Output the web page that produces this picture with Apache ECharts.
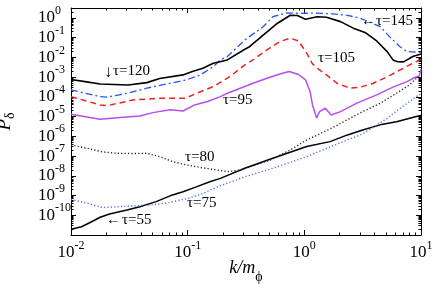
<!DOCTYPE html>
<html>
<head>
<meta charset="utf-8">
<script src="https://cdn.jsdelivr.net/npm/echarts@6/dist/echarts.min.js"></script>
<style>html,body{margin:0;padding:0;background:#fff}#c{width:436px;height:289px}</style>
</head>
<body>
<div id="c"></div>
<script>
// Values, stored as log10 exponents (log10 k/m_phi, log10 P_delta)
const k_t120 = [-2, -1.88, -1.75, -1.69, -1.51, -1.35, -1.24, -1.04, -0.96, -0.87, -0.78, -0.66, -0.51, -0.47, -0.35, -0.23, -0.12, -0.06, 0.01, 0.11, 0.19, 0.31, 0.42, 0.52, 0.62, 0.71, 0.76, 0.80, 0.85, 0.93, 1.0];
const p_t120 = [-3.12, -3.23, -3.35, -3.36, -3.40, -3.28, -3.07, -2.89, -2.72, -2.55, -2.30, -2.13, -1.59, -1.46, -0.86, -0.27, 0.13, 0.12, -0.07, 0.06, 0.03, -0.19, -0.52, -0.74, -1.17, -1.71, -2.13, -2.22, -2.23, -1.96, -1.83];

const k_t145 = [-2, -1.75, -1.69, -1.52, -1.35, -1.14, -1.01, -0.89, -0.78, -0.72, -0.66, -0.51, -0.47, -0.35, -0.27, -0.15, -0.04, 0.11, 0.25, 0.37, 0.48, 0.65, 0.73, 0.82, 0.88, 1.0];
const p_t145 = [-3.65, -3.99, -4.02, -3.82, -3.56, -3.30, -3.14, -2.89, -2.47, -2.13, -1.96, -1.12, -0.95, -0.44, 0.06, 0.25, 0.23, 0.24, 0.20, 0.13, -0.02, -0.44, -0.95, -1.46, -1.71, -1.75];

const k_t105 = [-2, -1.75, -1.69, -1.47, -1.24, -1.02, -0.89, -0.78, -0.64, -0.51, -0.44, -0.32, -0.21, -0.12, -0.05, 0.02, 0.07, 0.13, 0.19, 0.28, 0.39, 0.48, 0.59, 0.71, 0.82, 0.93, 1.0];
const p_t105 = [-3.99, -4.41, -4.45, -4.16, -4.07, -4.07, -3.74, -3.48, -2.98, -2.38, -2.13, -1.62, -1.20, -1.03, -1.17, -1.78, -2.33, -2.64, -2.89, -3.31, -3.56, -3.51, -3.31, -2.99, -2.64, -2.30, -2.10];

const k_t95 = [-2, -1.75, -1.58, -1.41, -1.30, -1.15, -1.04, -0.94, -0.83, -0.72, -0.66, -0.51, -0.44, -0.32, -0.21, -0.13, -0.05, 0.01, 0.05, 0.07, 0.105, 0.13, 0.18, 0.23, 0.31, 0.45, 0.62, 0.76, 0.88, 0.95, 0.985, 1.0];
const p_t95 = [-4.88, -5.14, -5.05, -4.97, -4.80, -4.66, -4.72, -4.41, -4.24, -3.99, -3.82, -3.48, -3.31, -3.06, -2.84, -2.72, -2.87, -3.14, -3.74, -4.41, -5.07, -4.75, -4.58, -4.92, -4.75, -4.32, -3.90, -3.51, -3.23, -3.01, -2.95, -2.60];

const k_t80 = [-2, -1.86, -1.73, -1.61, -1.47, -1.35, -1.24, -1.13, -1.01, -0.89, -0.78, -0.66, -0.55, -0.42, -0.29, -0.12, 0.02, 0.13, 0.26, 0.39, 0.50, 0.65, 0.79, 0.90, 0.98];
const p_t80 = [-6.44, -6.61, -6.79, -6.86, -6.87, -6.86, -7.03, -7.28, -7.45, -7.58, -7.68, -7.79, -7.71, -7.45, -7.20, -6.69, -6.19, -5.88, -5.51, -5.09, -4.75, -4.33, -3.82, -3.40, -2.95];

const k_t75 = [-2, -1.86, -1.73, -1.61, -1.47, -1.32, -1.18, -1.02, -0.89, -0.75, -0.51, -0.27, 0.02, 0.22, 0.50, 0.71, 0.79, 0.96, 1.0];
const p_t75 = [-9.20, -9.39, -9.61, -9.57, -9.53, -9.48, -9.38, -9.18, -8.95, -8.57, -8.05, -7.62, -7.03, -6.54, -5.88, -5.09, -4.72, -3.99, -3.85];

const k_t55 = [-2, -1.91, -1.84, -1.75, -1.67, -1.52, -1.41, -1.27, -1.13, -1.04, -0.92, -0.81, -0.72, -0.51, -0.27, 0.02, 0.22, 0.37, 0.50, 0.65, 0.79, 0.96, 1.0];
const p_t55 = [-10.71, -10.58, -10.38, -10.10, -9.94, -9.73, -9.57, -9.31, -8.97, -8.81, -8.55, -8.30, -8.13, -7.62, -7.11, -6.52, -6.27, -5.93, -5.68, -5.42, -5.26, -5.00, -4.95];

// Tick labels (decade exponents)
const xTickExps = [-2, -1, 0, 1];
const yTickExps = [-10, -9, -8, -7, -6, -5, -4, -3, -2, -1, 0];
const X_RANGE = [-2, 1];
const Y_RANGE = [-11, 0.5];

// Annotations
const annotations = ['↓', 'τ=120', '←', 'τ=145', 'τ=105', 'τ=95', 'τ=80', 'τ=75', '←', 'τ=55'];

const FONT = '"Liberation Serif", "Times New Roman", "DejaVu Serif", serif';

function minorTicks(lo, hi) {
  const out = [];
  for (let n = Math.floor(lo); n < hi; n++) {
    for (let m = 2; m <= 9; m++) {
      const v = n + Math.log10(m);
      if (v > lo && v < hi) out.push(v);
    }
  }
  return out;
}
const xMinor = minorTicks(X_RANGE[0], X_RANGE[1]);
const yMinor = minorTicks(Y_RANGE[0], Y_RANGE[1]);

const labelRich = {
  b: { fontSize: 17, fontFamily: FONT, color: '#000', lineHeight: 25, verticalAlign: 'middle' },
  s: { fontSize: 12, fontFamily: FONT, color: '#000', verticalAlign: 'top' }
};
const fmt = v => '{b|10}{s|' + Math.round(v) + '}';

function axisBase(range, pos) {
  return {
    type: 'value', min: range[0], max: range[1], position: pos,
    axisLine: { show: true, onZero: false, lineStyle: { color: '#000', width: 1 } },
    splitLine: { show: false },
    axisLabel: { show: false },
    axisTick: { show: false }
  };
}
function majorAxis(range, pos, ticks) {
  const a = axisBase(range, pos);
  a.axisTick = { show: true, inside: true, length: 5, customValues: ticks, lineStyle: { color: '#000', width: 1 } };
  return a;
}
function minorAxis(range, pos, ticks) {
  const a = axisBase(range, pos);
  a.axisLine = { show: false, onZero: false };
  a.axisTick = { show: true, inside: true, length: 2.5, customValues: ticks, lineStyle: { color: '#000', width: 1 } };
  return a;
}

const xMajorTicks = [-2, -1, 0, 1];
const yMajorTicks = [-11, -10, -9, -8, -7, -6, -5, -4, -3, -2, -1, 0];

// bottom x axis: rich "10^n" labels
const xMain = majorAxis(X_RANGE, 'bottom', xMajorTicks);
xMain.axisLabel = { show: true, customValues: xTickExps, formatter: fmt, rich: labelRich,
  margin: 5, hideOverlap: false, showMinLabel: true, showMaxLabel: true };
xMain.name = '{i|k/m}{s|ϕ}';
xMain.nameLocation = 'middle';
xMain.nameGap = 24;
xMain.nameMoveOverlap = false;
xMain.nameTextStyle = { rich: {
  i: { fontSize: 18, fontStyle: 'italic', fontFamily: FONT, color: '#000', lineHeight: 18, verticalAlign: 'top' },
  s: { fontSize: 14, fontFamily: FONT, color: '#000', lineHeight: 36 }
}};

// left y axis: mantissa "10" labels
const yMain = majorAxis(Y_RANGE, 'left', yMajorTicks);
yMain.axisLabel = { show: true, customValues: yTickExps, formatter: () => '10',
  fontSize: 17, fontFamily: FONT, color: '#000', lineHeight: 17, align: 'right', verticalAlign: 'middle',
  margin: 16, hideOverlap: false, showMinLabel: true, showMaxLabel: true };
yMain.name = '{p|P}{d|δ}';
yMain.nameLocation = 'middle';
yMain.nameRotate = 90;
yMain.nameGap = 46;
yMain.nameMoveOverlap = false;
yMain.nameTextStyle = { rich: {
  p: { fontSize: 19, fontStyle: 'italic', fontFamily: FONT, color: '#000', lineHeight: 20, verticalAlign: 'top' },
  d: { fontSize: 14, fontFamily: FONT, color: '#000', lineHeight: 30 }
}};

// left y axis: exponent (superscript) labels
const yExp = axisBase(Y_RANGE, 'left');
yExp.axisLine = { show: false, onZero: false };
yExp.axisLabel = { show: true, customValues: yTickExps, formatter: v => String(Math.round(v)),
  fontSize: 12, fontFamily: FONT, color: '#000', lineHeight: 14, align: 'left', verticalAlign: 'bottom',
  margin: 16, hideOverlap: false, showMinLabel: true, showMaxLabel: true };

function lineSeries(name, ks, ps, color, type, width) {
  return {
    name, type: 'line', xAxisIndex: 0, yAxisIndex: 0,
    data: ks.map((k, i) => [k, ps[i]]),
    showSymbol: false, symbol: 'none', smooth: false, silent: true,
    lineStyle: { color, type, width }
  };
}

const series = [
  lineSeries('τ=55', k_t55, p_t55, '#000000', 'solid', 1.5),
  lineSeries('τ=75', k_t75, p_t75, '#4a6cf0', [1.2, 2.2], 1.4),
  lineSeries('τ=80', k_t80, p_t80, '#222222', [1.2, 2.2], 1.4),
  lineSeries('τ=95', k_t95, p_t95, '#b84ef0', 'solid', 1.5),
  lineSeries('τ=105', k_t105, p_t105, '#ee2222', [6, 4], 1.5),
  lineSeries('τ=145', k_t145, p_t145, '#2a55ea', [7, 3, 2, 3], 1.3),
  lineSeries('τ=120', k_t120, p_t120, '#000000', 'solid', 1.6)
];

function txt(text, x, y, size) {
  return { type: 'text', x, y, silent: true, z: 100,
    style: { text, font: (size || 15) + 'px ' + FONT, fill: '#000',
      textAlign: 'left', textVerticalAlign: 'middle', align: 'left', verticalAlign: 'middle' } };
}

const graphic = [
  txt(annotations[0], 104, 73, 17),
  txt(annotations[1], 113, 71.5),
  txt(annotations[2], 361, 21, 15),
  txt(annotations[3], 376, 21),
  txt(annotations[4], 318, 58.5),
  txt(annotations[5], 223, 100),
  txt(annotations[6], 185, 157),
  txt(annotations[7], 187, 203.5),
  txt(annotations[8], 106, 220.5, 15),
  txt(annotations[9], 122, 220.5)
];

const chart = echarts.init(document.getElementById('c'), null, { renderer: 'canvas', width: 436, height: 289 });
chart.setOption({
  animation: false,
  backgroundColor: '#fff',
  grid: { left: 71, right: 15, top: 8, bottom: 54, containLabel: false, outerBoundsMode: 'none' },
  xAxis: [
    xMain,
    minorAxis(X_RANGE, 'bottom', xMinor),
    majorAxis(X_RANGE, 'top', xMajorTicks),
    minorAxis(X_RANGE, 'top', xMinor)
  ],
  yAxis: [
    yMain,
    minorAxis(Y_RANGE, 'left', yMinor),
    majorAxis(Y_RANGE, 'right', yMajorTicks),
    minorAxis(Y_RANGE, 'right', yMinor),
    yExp
  ],
  series,
  graphic
});
</script>
</body>
</html>
